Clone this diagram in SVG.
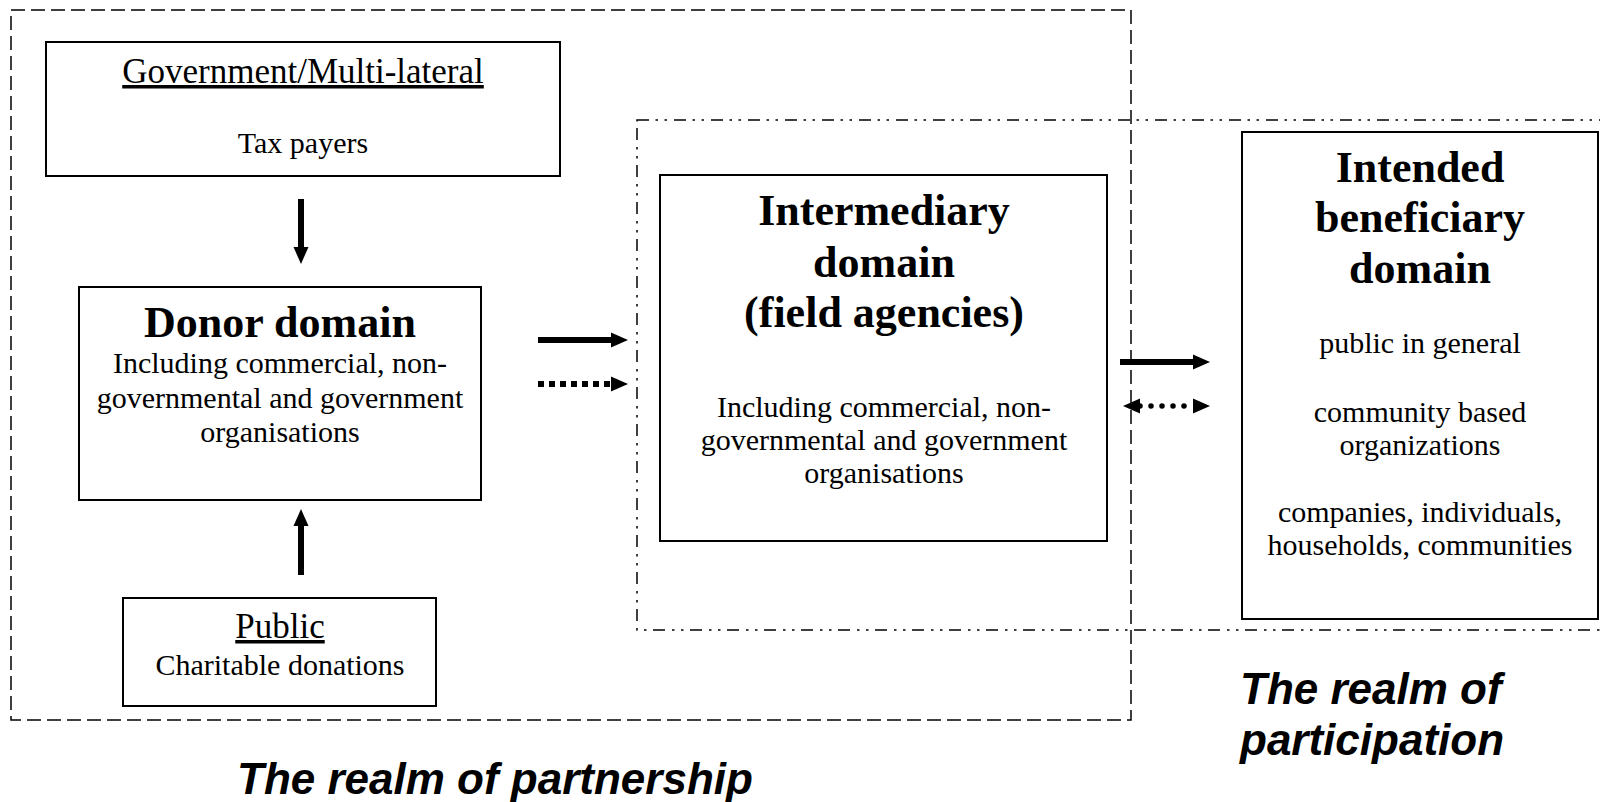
<svg xmlns="http://www.w3.org/2000/svg" width="1600" height="802" viewBox="0 0 1600 802">
  <style>
    .box { fill: #fff; stroke: #000; stroke-width: 2; }
    .realm-partner { fill: none; stroke: #000; stroke-width: 1.5; stroke-dasharray: 14 6; }
    .realm-partic { fill: none; stroke: #000; stroke-width: 1.5; stroke-dasharray: 12 6.5 2.5 6.5 2.5 7; }
    .serif { fill: #000; text-anchor: middle; }
    .title { font-weight: bold; font-size: 44px; }
    .body { font-size: 30px; }
    .heading { font-size: 35px; text-decoration: underline; }
    .realm { font-weight: bold; font-style: italic; font-size: 44px; fill: #000; }
    .solid { stroke: #000; stroke-width: 6; fill: none; }
    .dashed { stroke: #000; stroke-width: 6; fill: none; stroke-dasharray: 6 5; }
    .dots { stroke: #000; stroke-width: 5.5; fill: none; stroke-dasharray: 0 11; stroke-linecap: round; }
  </style>
  <defs>
    <marker id="head" markerUnits="userSpaceOnUse" markerWidth="17" markerHeight="16" refX="0" refY="8" orient="auto-start-reverse">
      <path d="M0,0.5 L17,8 L0,15.5 z" fill="#000"/>
    </marker>
  </defs>

  <rect width="1600" height="802" fill="#fff"/>

  <!-- realm outlines -->
  <g id="realm-partnership">
    <rect class="realm-partner" x="11" y="10" width="1120" height="710"/>
  </g>
  <g id="realm-participation">
    <rect class="realm-partic" x="637" y="120" width="980" height="510"/>
  </g>

  <!-- nodes -->
  <g font-family="Times New Roman, Liberation Serif, Times, serif">
    <g id="government">
      <rect class="box" x="46" y="42" width="514" height="134"/>
      <text class="serif heading" x="303" y="83">Government/Multi-lateral</text>
      <text class="serif body" x="303" y="153">Tax payers</text>
    </g>

    <g id="donor">
      <rect class="box" x="79" y="287" width="402" height="213"/>
      <text class="serif title" x="280" y="337">Donor domain</text>
      <text class="serif body" x="280" y="373">Including commercial, non-</text>
      <text class="serif body" x="280" y="408">governmental and government</text>
      <text class="serif body" x="280" y="442">organisations</text>
    </g>

    <g id="public">
      <rect class="box" x="123" y="598" width="313" height="108"/>
      <text class="serif heading" x="280" y="638">Public</text>
      <text class="serif body" x="280" y="675">Charitable donations</text>
    </g>

    <g id="intermediary">
      <rect class="box" x="660" y="175" width="447" height="366"/>
      <text class="serif title" x="884" y="225">Intermediary</text>
      <text class="serif title" x="884" y="277">domain</text>
      <text class="serif title" x="884" y="327">(field agencies)</text>
      <text class="serif body" x="884" y="417">Including commercial, non-</text>
      <text class="serif body" x="884" y="450">governmental and government</text>
      <text class="serif body" x="884" y="483">organisations</text>
    </g>

    <g id="beneficiary">
      <rect class="box" x="1242" y="132" width="356" height="487"/>
      <text class="serif title" x="1420" y="182">Intended</text>
      <text class="serif title" x="1420" y="232">beneficiary</text>
      <text class="serif title" x="1420" y="283">domain</text>
      <text class="serif body" x="1420" y="353">public in general</text>
      <text class="serif body" x="1420" y="422">community based</text>
      <text class="serif body" x="1420" y="455">organizations</text>
      <text class="serif body" x="1420" y="522">companies, individuals,</text>
      <text class="serif body" x="1420" y="555">households, communities</text>
    </g>
  </g>

  <!-- realm captions -->
  <g id="captions" font-family="Liberation Sans, Arial, sans-serif">
    <text class="realm" x="237" y="794">The realm of partnership</text>
    <text class="realm" x="1240" y="704">The realm of</text>
    <text class="realm" x="1240" y="755">participation</text>
  </g>

  <!-- connectors -->
  <g id="connectors">
    <line class="solid" x1="301" y1="199" x2="301" y2="247" marker-end="url(#head)"/>
    <line class="solid" x1="301" y1="575" x2="301" y2="526" marker-end="url(#head)"/>
    <line class="solid" x1="538" y1="340" x2="611" y2="340" marker-end="url(#head)"/>
    <line class="dashed" x1="538" y1="384" x2="611" y2="384" marker-end="url(#head)"/>
    <line class="solid" x1="1120" y1="362" x2="1193" y2="362" marker-end="url(#head)"/>
    <line class="dots" x1="1140" y1="406" x2="1193" y2="406" marker-start="url(#head)" marker-end="url(#head)"/>
  </g>
</svg>
